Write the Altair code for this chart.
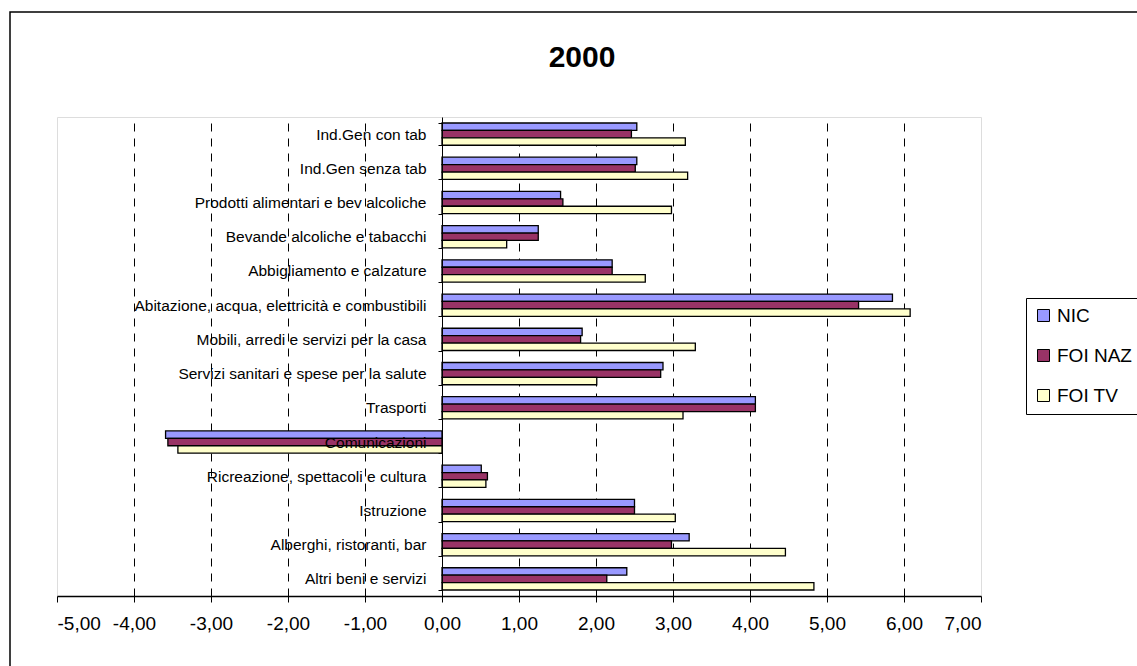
import altair as alt
import pandas as pd

# Categories, top to bottom
categories = [
    "Ind.Gen con tab",
    "Ind.Gen senza tab",
    "Prodotti alimentari e bev alcoliche",
    "Bevande alcoliche e tabacchi",
    "Abbigliamento e calzature",
    "Abitazione, acqua, elettricità e combustibili",
    "Mobili, arredi e servizi per la casa",
    "Servizi sanitari e spese per la salute",
    "Trasporti",
    "Comunicazioni",
    "Ricreazione, spettacoli e cultura",
    "Istruzione",
    "Alberghi, ristoranti, bar",
    "Altri beni e servizi",
]

series = ["NIC", "FOI NAZ", "FOI TV"]
colors = ["#9999FF", "#993366", "#FFFFCC"]

nic = [2.53, 2.53, 1.54, 1.25, 2.21, 5.85, 1.82, 2.87, 4.07, -3.59, 0.51, 2.50, 3.21, 2.40]
foi_naz = [2.46, 2.51, 1.57, 1.25, 2.21, 5.41, 1.80, 2.84, 4.07, -3.56, 0.59, 2.50, 2.98, 2.14]
foi_tv = [3.16, 3.19, 2.98, 0.84, 2.64, 6.08, 3.29, 2.01, 3.13, -3.43, 0.57, 3.03, 4.46, 4.83]

x_ticks = [-5, -4, -3, -2, -1, 0, 1, 2, 3, 4, 5, 6, 7]

chart_title = ["2000"]

rows = []
for name, vals in zip(series, [nic, foi_naz, foi_tv]):
    for cat, v in zip(categories, vals):
        rows.append({"categoria": cat, "serie": name, "valore": v})
df = pd.DataFrame(rows)

FONT = "Liberation Sans"

bars = alt.Chart(df).mark_bar(stroke="black", strokeWidth=1.3).encode(
    x=alt.X(
        "valore:Q",
        scale=alt.Scale(domain=[-5, 7], nice=False, zero=False),
        axis=alt.Axis(
            title=None,
            values=x_ticks,
            labelExpr="replace(replace(format(datum.value, '.2f'), '.', ','), '\u2212', '-')",
            labelFont=FONT,
            labelFontSize=19,
            labelColor="black",
            labelPadding=12,
            tickSize=6,
            tickColor="black",
            domainColor="black",
            domainWidth=1.5,
            grid=True,
            gridColor="black",
            gridDash=[8, 7],
            gridWidth=1,
            gridOpacity={"condition": {"test": "datum.value <= -5 || datum.value >= 7 || datum.value == 0", "value": 0}, "value": 1},
        ),
    ),
    y=alt.Y(
        "categoria:N",
        sort=categories,
        scale=alt.Scale(paddingInner=0.35, paddingOuter=0.175),
        axis=alt.Axis(
            title=None,
            offset=-385,
            zindex=1,
            tickBand="extent",
            tickSize=4,
            tickColor="black",
            domainColor="black",
            domainWidth=1,
            labelFont=FONT,
            labelFontSize=15.5,
            labelColor="black",
            labelPadding=12,
            labelLimit=0,
            grid=False,
        ),
    ),
    yOffset=alt.YOffset("serie:N", sort=series, scale=alt.Scale(paddingInner=0, paddingOuter=0)),
    color=alt.Color(
        "serie:N",
        sort=series,
        scale=alt.Scale(domain=series, range=colors),
        legend=alt.Legend(
            title=None,
            orient="none",
            legendX=969,
            legendY=181,
            strokeColor="black",
            padding=8,
            fillColor="white",
            symbolType="square",
            symbolSize=144,
            symbolStrokeColor="black",
            symbolStrokeWidth=1,
            symbolOpacity=1,
            labelFont=FONT,
            labelFontSize=19,
            labelColor="black",
            labelOffset=4,
            rowPadding=20,
        ),
    ),
)

# Outer chart frame
frame = alt.Chart(pd.DataFrame({"k": [0]})).mark_rect(
    fillOpacity=0, stroke="black", strokeWidth=1.5
).encode(
    x=alt.value(-47), x2=alt.value(1095), y=alt.value(-105), y2=alt.value(560)
)

# Chart heading
heading = alt.Chart(pd.DataFrame({"t": chart_title})).mark_text(
    font=FONT, fontSize=30, fontWeight="bold", color="black",
    align="center", baseline="alphabetic"
).encode(
    text="t:N", x=alt.value(525), y=alt.value(-50)
)

chart = alt.layer(frame, bars, heading).properties(
    width=924,
    height=479,
    autosize=alt.AutoSizeParams(type="none"),
    padding={"left": 57, "top": 117, "right": 156, "bottom": 70},
).configure_view(
    stroke="#8c8c8c", strokeWidth=2
).configure(background="white")

chart.save("out.html", embed_options={"renderer": "svg", "actions": False})
